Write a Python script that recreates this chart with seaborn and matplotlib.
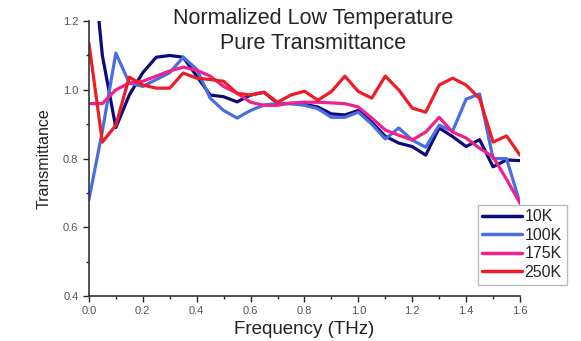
import matplotlib
matplotlib.use("Agg")
import matplotlib.pyplot as plt
from matplotlib.ticker import MultipleLocator
import seaborn as sns
import pandas as pd

# frequency grid (THz), one reading every 0.05 THz
freq = [round(0.05 * i, 2) for i in range(33)]

t_10k = [1.50, 1.10, 0.89, 0.985, 1.05, 1.095, 1.10, 1.095, 1.04, 0.985,
         0.98, 0.965, 0.985, 0.993, 0.961, 0.96, 0.958, 0.95, 0.93, 0.927,
         0.94, 0.906, 0.865, 0.845, 0.835, 0.81, 0.889, 0.864, 0.835, 0.855,
         0.776, 0.796, 0.794]
t_100k = [0.68, 0.88, 1.107, 1.02, 1.01, 1.03, 1.05, 1.095, 1.06, 0.976,
          0.94, 0.918, 0.94, 0.956, 0.96, 0.96, 0.955, 0.945, 0.92, 0.92,
          0.935, 0.90, 0.857, 0.889, 0.854, 0.833, 0.897, 0.88, 0.973, 0.988,
          0.80, 0.80, 0.67]
t_175k = [0.96, 0.96, 1.0, 1.02, 1.025, 1.04, 1.055, 1.066, 1.057, 1.04,
          1.01, 0.99, 0.964, 0.955, 0.955, 0.962, 0.964, 0.964, 0.962, 0.96,
          0.95, 0.918, 0.883, 0.868, 0.854, 0.877, 0.92, 0.877, 0.86, 0.83,
          0.805, 0.74, 0.67]
t_250k = [1.136, 0.848, 0.897, 1.037, 1.014, 1.005, 1.005, 1.049, 1.034, 1.03,
          1.025, 0.99, 0.985, 0.993, 0.964, 0.985, 0.996, 0.97, 0.995, 1.04,
          0.995, 0.976, 1.04, 1.0, 0.947, 0.935, 1.014, 1.034, 1.014, 0.975,
          0.848, 0.866, 0.81]

labels = ["10K", "100K", "175K", "250K"]
colors = ["#0c0c78", "#4a6ee0", "#f0208c", "#ee1c24"]

frames = []
for lab, vals in zip(labels, [t_10k, t_100k, t_175k, t_250k]):
    frames.append(pd.DataFrame({"freq": freq, "T": vals, "temp": lab}))
df = pd.concat(frames, ignore_index=True)

sns.set_style("ticks")
plt.rcParams["font.family"] = ["Liberation Sans", "DejaVu Sans"]

fig = plt.figure(figsize=(5.81, 3.41), dpi=100)
ax = fig.add_axes([0.153, 0.132, 0.742, 0.806])

sns.lineplot(data=df, x="freq", y="T", hue="temp", hue_order=labels,
             palette=colors, linewidth=2.3, ax=ax, legend=False)

ax.set_xlim(0, 1.6)
ax.set_ylim(0.4, 1.2)
ax.xaxis.set_major_locator(MultipleLocator(0.2))
ax.xaxis.set_minor_locator(MultipleLocator(0.1))
ax.yaxis.set_major_locator(MultipleLocator(0.2))
ax.yaxis.set_minor_locator(MultipleLocator(0.1))
ax.xaxis.set_major_formatter(plt.FuncFormatter(lambda v, p: f"{v:.1f}"))
ax.yaxis.set_major_formatter(plt.FuncFormatter(lambda v, p: f"{v:.1f}"))
ax.tick_params(which="major", length=4, width=1, labelsize=8, labelcolor="#555555", direction="out")
ax.tick_params(which="minor", length=2, width=1, direction="out")
for s in ["top", "right"]:
    ax.spines[s].set_visible(False)
for s in ["left", "bottom"]:
    ax.spines[s].set_color("#333333")
    ax.spines[s].set_linewidth(1.2)

ax.set_xlabel("Frequency (THz)", fontsize=13.5, color="#222222", labelpad=3)
ax.set_ylabel("Transmittance", fontsize=11.5, color="#222222", labelpad=8)

fig.text(0.539, 0.908, "Normalized Low Temperature\nPure Transmittance",
         ha="center", va="center", fontsize=15.5, linespacing=1.25)

handles = [plt.Line2D([], [], color=c, linewidth=2.5) for c in colors]
leg = fig.legend(handles, labels, loc="upper left", bbox_to_anchor=(0.822, 0.4),
                 fontsize=11.5, frameon=True, fancybox=False, handlelength=2.5,
                 handletextpad=0.15, labelspacing=0.22, borderpad=0.3,
                 borderaxespad=0)
leg.get_frame().set_edgecolor("#aaaaaa")
leg.get_frame().set_linewidth(1.0)

fig.savefig("out.png", dpi=100)
